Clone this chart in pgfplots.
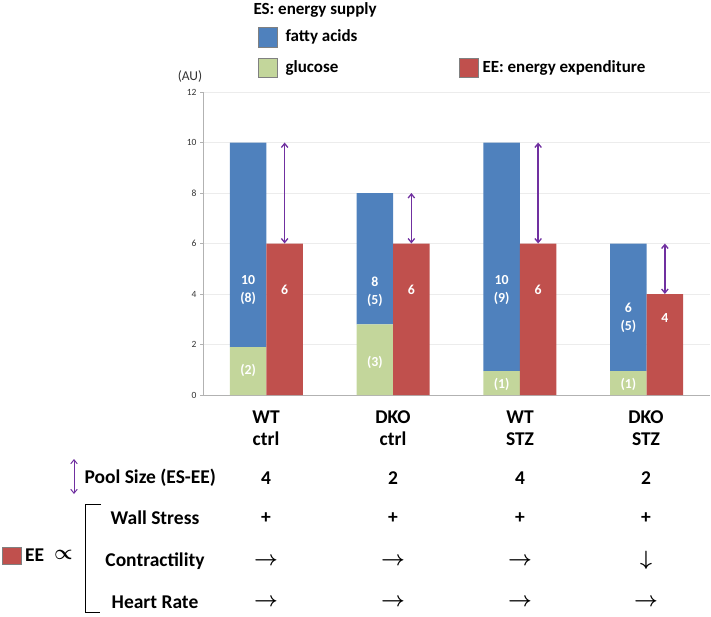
\documentclass[border=0pt]{standalone}
\usepackage{amsmath}
\usepackage{pgfplots}
\pgfplotsset{compat=1.18}
\usetikzlibrary{arrows.meta}
\usepackage{fontspec}
\setmainfont{Carlito}
\definecolor{esblue}{HTML}{4F81BD}
\definecolor{esgreen}{HTML}{C3D69B}
\definecolor{eered}{HTML}{C0504D}
\definecolor{pool}{HTML}{7030A0}
\newcommand\bigf{\fontsize{19.5}{22}\selectfont\bfseries}
\newcommand\legf{\fontsize{17}{20}\selectfont\bfseries}
\newcommand\barf{\fontsize{13.8}{18}\selectfont\bfseries}
\newcommand\symf{\fontsize{20}{22}\selectfont}

% glucose, fatty acids (stacked), energy expenditure
\pgfplotstableread{
x  glc  fa    ee  total
0  1.9  8.1   6   10
1  2.8  5.2   6   8
2  0.95 9.05  6   10
3  0.95 5.05  4   6
}\data

\tikzset{pooltip/.style={draw=pool, line width=1.3pt,
    {Straight Barb[length=4pt,width=6.5pt]}-{Straight Barb[length=4pt,width=6.5pt]}}}
\pgfplotsset{
  base/.style={width=507pt, height=303pt, scale only axis,
    at={(203pt,-395pt)}, anchor=south west,
    xmin=-0.5, xmax=3.5, ymin=0, ymax=12, clip=false}
}

\begin{document}
\begin{tikzpicture}
\useasboundingbox (0pt,0pt) rectangle (711pt,-616pt);

\begin{axis}[base,
    ybar stacked, bar width=36.5pt, bar shift=-18.25pt,
    axis lines*=left, axis line style={gray!60},
    xtick=\empty, ytick={0,2,...,12},
    ymajorgrids, grid style={gray!15},
    y tick label style={font=\fontsize{9.5}{10}\selectfont, text=black!80},
    /pgf/number format/assume math mode=true,
    tick align=outside, major tick length=3pt, ytick style={gray!60}]
\addplot[fill=esgreen, draw=none] table[x=x, y=glc] {\data};
\addplot[fill=esblue, draw=none] table[x=x, y=fa] {\data};
\end{axis}

\begin{axis}[base, axis lines=none, xtick=\empty, ytick=\empty]
\addplot[ybar, bar width=36.5pt, bar shift=18.25pt, fill=eered, draw=none]
  table[x=x, y=ee] {\data};
% pool size arrows: from EE up to ES
\addplot[pooltip] coordinates {(0.144,6) (0.144,10)};
\addplot[pooltip] coordinates {(1.144,6) (1.144,8)};
\addplot[pooltip] coordinates {(2.144,6) (2.144,10)};
\addplot[pooltip] coordinates {(3.144,4) (3.144,6)};
% in-bar labels
\begin{scope}[every node/.style={text=white, font=\barf, align=center}]
\node at (axis cs:-0.144,4.15) {10\\(8)};
\node at (axis cs:0.144,4.15) {6};
\node at (axis cs:-0.144,0.99) {(2)};
\node at (axis cs:0.856,4.1) {8\\(5)};
\node at (axis cs:1.144,4.15) {6};
\node at (axis cs:0.856,1.3) {(3)};
\node at (axis cs:1.856,4.15) {10\\(9)};
\node at (axis cs:2.144,4.15) {6};
\node at (axis cs:1.856,0.4) {(1)};
\node at (axis cs:2.856,3.05) {6\\(5)};
\node at (axis cs:3.144,3.05) {4};
\node at (axis cs:2.856,0.4) {(1)};
\end{scope}
\end{axis}

\begin{scope}[x=1pt,y=-1pt]
% legend
\node[anchor=west, font=\legf] at (250,10) {ES: energy supply};
\filldraw[fill=esblue, draw=gray] (258,27) rectangle (277,47);
\node[anchor=west, font=\legf] at (282,37) {fatty acids};
\filldraw[fill=esgreen, draw=gray] (258,58) rectangle (277,77);
\node[anchor=west, font=\legf] at (282,68) {glucose};
\filldraw[fill=eered, draw=gray] (459,58) rectangle (478,77);
\node[anchor=west, font=\legf] at (479,68) {EE: energy expenditure};
\node[font=\fontsize{13.5}{15}\selectfont, text=black!80, inner sep=1pt] at (190,76) {(AU)};

% categories
\foreach \cx/\a/\b in {266/WT/ctrl, 393/DKO/ctrl, 520/WT/STZ, 646/DKO/STZ} {
  \node[font=\bigf] at (\cx,417) {\a};
  \node[font=\bigf] at (\cx,439) {\b};
}
% pool size row
\draw[pooltip, line width=1pt] (74,459) -- (74,494);
\node[anchor=west, font=\bigf] at (81,478) {Pool Size (ES-EE)};
\foreach \cx/\v in {266/4, 393/2, 520/4, 646/2}
  \node[font=\bigf] at (\cx,478) {\v};

% EE proportional rows
\filldraw[fill=eered, draw=gray] (2,547) rectangle (21,564);
\node[anchor=west, font=\bigf, inner sep=0pt] at (25,555) {EE};
\node[font=\symf] at (63.5,555) {$\boldsymbol{\propto}$};
\draw[line width=1pt] (101,504) -- (85,504) -- (85,612) -- (100,612);
\node[font=\bigf] at (155,518) {Wall Stress};
\node[font=\bigf] at (155,561) {Contractility};
\node[font=\bigf] at (155,602) {Heart Rate};
\foreach \cx in {266,393,520,646} {
  \node[font=\bigf] at (\cx,518) {+};
  \node[font=\symf] at (\cx,602) {$\boldsymbol{\rightarrow}$};
}
\foreach \cx in {266,393,520}
  \node[font=\symf] at (\cx,561) {$\boldsymbol{\rightarrow}$};
\node[font=\symf] at (646,560) {$\boldsymbol{\downarrow}$};
\end{scope}
\end{tikzpicture}
\end{document}
